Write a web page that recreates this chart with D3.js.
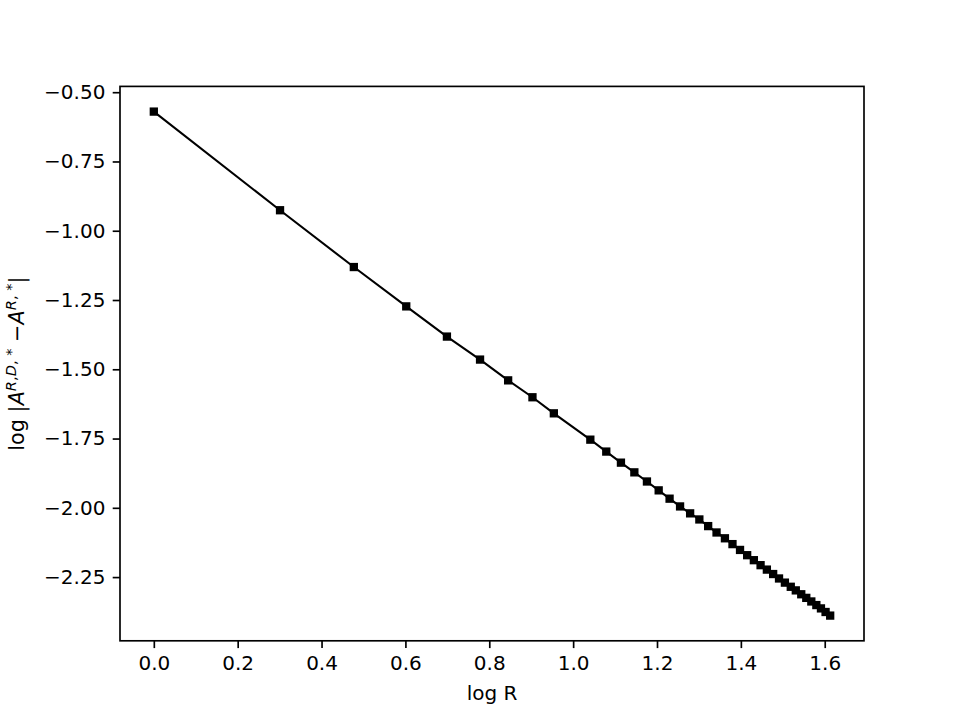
<!DOCTYPE html>
<html>
<head>
<meta charset="utf-8">
<script src="https://cdn.jsdelivr.net/npm/d3@7"></script>
<style>
  html, body { margin: 0; padding: 0; background: #fff; }
  svg { display: block; }
  text { font-family: "DejaVu Sans", sans-serif; fill: #000; }
</style>
</head>
<body>
<svg id="chart" width="960" height="720"></svg>
<script>
// ---- data ----
const logR = [0.000, 0.301, 0.477, 0.602, 0.699, 0.778, 0.845, 0.903, 0.954,
  1.041, 1.079, 1.114, 1.146, 1.176, 1.204, 1.230, 1.255, 1.279, 1.301,
  1.322, 1.342, 1.362, 1.380, 1.398, 1.415, 1.431, 1.447, 1.462, 1.477,
  1.491, 1.505, 1.519, 1.531, 1.544, 1.556, 1.568, 1.580, 1.591, 1.602, 1.613];
const logDiff = [-0.570, -0.926, -1.131, -1.273, -1.382, -1.465, -1.540, -1.601, -1.659,
  -1.754, -1.797, -1.837, -1.872, -1.905, -1.937, -1.967, -1.995, -2.020, -2.042,
  -2.066, -2.089, -2.110, -2.131, -2.152, -2.171, -2.189, -2.207, -2.223, -2.239,
  -2.255, -2.270, -2.285, -2.298, -2.312, -2.325, -2.338, -2.351, -2.363, -2.376, -2.389];
const xTicks = [0.0, 0.2, 0.4, 0.6, 0.8, 1.0, 1.2, 1.4, 1.6];
const xTickLabels = ["0.0", "0.2", "0.4", "0.6", "0.8", "1.0", "1.2", "1.4", "1.6"];
const yTicks = [-0.50, -0.75, -1.00, -1.25, -1.50, -1.75, -2.00, -2.25];
const yTickLabels = ["\u22120.50", "\u22120.75", "\u22121.00", "\u22121.25", "\u22121.50", "\u22121.75", "\u22122.00", "\u22122.25"];

const points = logR.map((x, i) => ({ x, y: logDiff[i] }));

// ---- layout ----
const mLeft = 120, mRight = 864, mTop = 86.4, mBottom = 640.8;
const svg = d3.select("#chart");

function padded(ext) {
  const m = (ext[1] - ext[0]) * 0.05;
  return [ext[0] - m, ext[1] + m];
}
const x = d3.scaleLinear().domain(padded(d3.extent(logR))).range([mLeft, mRight]);
const y = d3.scaleLinear().domain(padded(d3.extent(logDiff))).range([mBottom, mTop]);

const fontSize = 20;
const tickLen = 7.3, tickPad = 7.3, lw = 1.67;

// x axis
const xAxis = d3.axisBottom(x).tickValues(xTicks)
  .tickFormat((d, i) => xTickLabels[i]).tickSizeOuter(0)
  .tickSize(tickLen).tickPadding(tickPad);
const gx = svg.append("g").attr("transform", `translate(0,${mBottom})`).call(xAxis);
gx.select(".domain").remove();
gx.selectAll(".tick line").attr("stroke", "#000").attr("stroke-width", lw);
gx.selectAll(".tick text").attr("font-size", fontSize).attr("font-family", "DejaVu Sans");

// y axis
const yAxis = d3.axisLeft(y).tickValues(yTicks)
  .tickFormat((d, i) => yTickLabels[i]).tickSizeOuter(0)
  .tickSize(tickLen).tickPadding(tickPad);
const gy = svg.append("g").attr("transform", `translate(${mLeft},0)`).call(yAxis);
gy.select(".domain").remove();
gy.selectAll(".tick line").attr("stroke", "#000").attr("stroke-width", lw);
gy.selectAll(".tick text").attr("font-size", fontSize).attr("font-family", "DejaVu Sans");

// line
const line = d3.line().x(d => x(d.x)).y(d => y(d.y));
svg.append("path").datum(points)
  .attr("d", line).attr("fill", "none").attr("stroke", "#000")
  .attr("stroke-width", 2.08).attr("stroke-linejoin", "round");

// square markers
const ms = 8.3;
svg.append("g").selectAll("rect").data(points).join("rect")
  .attr("x", d => x(d.x) - ms / 2).attr("y", d => y(d.y) - ms / 2)
  .attr("width", ms).attr("height", ms).attr("fill", "#000");

// frame
svg.append("rect").attr("x", mLeft).attr("y", mTop)
  .attr("width", mRight - mLeft).attr("height", mBottom - mTop)
  .attr("fill", "none").attr("stroke", "#000").attr("stroke-width", lw);

// x label
svg.append("text").attr("x", (mLeft + mRight) / 2).attr("y", 700)
  .attr("text-anchor", "middle").attr("font-size", fontSize).text("log R");

// y label (mathtext-like)
const yl = svg.append("text")
  .attr("transform", `translate(24,${(mTop + mBottom) / 2}) rotate(-90)`)
  .attr("text-anchor", "middle").attr("font-size", 20.8);
yl.append("tspan").text("log |");
yl.append("tspan").attr("font-style", "italic").text("A");
const sup1 = yl.append("tspan").attr("font-size", 14.6).attr("dy", -8);
sup1.append("tspan").attr("font-style", "italic").text("R");
sup1.append("tspan").text(",");
sup1.append("tspan").attr("font-style", "italic").text("D");
sup1.append("tspan").text(", *");
yl.append("tspan").attr("dy", 8).text(" \u2212");
yl.append("tspan").attr("font-style", "italic").text("A");
const sup2 = yl.append("tspan").attr("font-size", 14.6).attr("dy", -8);
sup2.append("tspan").attr("font-style", "italic").text("R");
sup2.append("tspan").text(", *");
yl.append("tspan").attr("dy", 8).text("|");
</script>
</body>
</html>
